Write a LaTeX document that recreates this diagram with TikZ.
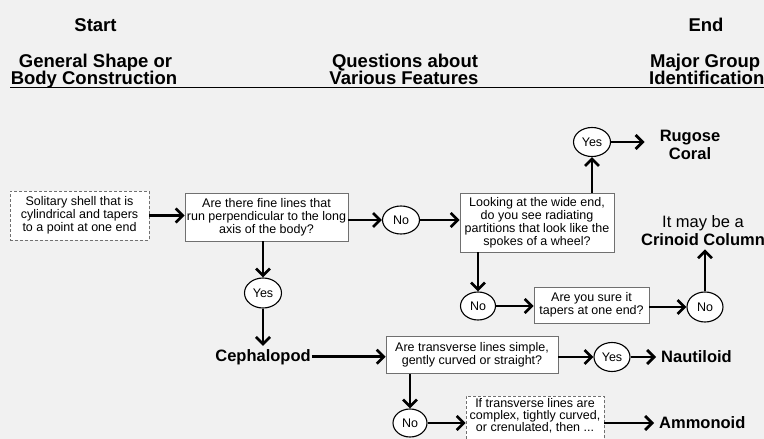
\documentclass[tikz,border=0pt]{standalone}
\usepackage{fontspec}
\setmainfont{Liberation Sans}
\usetikzlibrary{arrows.meta,shapes.geometric}
\definecolor{bg}{HTML}{F1F1F1}
\definecolor{boxline}{HTML}{707070}
\begin{document}
\begin{tikzpicture}[x=1pt,y=-1pt,
  qbox/.style={draw=boxline, line width=0.7pt, fill=white, align=center,
    font=\fontsize{12.5}{13}\selectfont, inner sep=0pt},
  dbox/.style={qbox, densely dashed},
  ans/.style={ellipse, draw=black, line width=1.1pt, fill=white,
    minimum width=37pt, minimum height=28pt, inner sep=0pt,
    font=\fontsize{12.5}{12.5}\selectfont},
  grp/.style={font=\bfseries\fontsize{16.5}{18}\selectfont, align=center,
    inner xsep=5pt, inner ysep=3pt},
  head/.style={font=\bfseries\fontsize{18.5}{17}\selectfont, inner sep=0pt},
  arr/.style={-{Straight Barb[length=7pt,width=14pt]}, line width=2.7pt}]
\clip (0,0) rectangle (764,439);
\fill[bg] (0,0) rectangle (764,439);

% headings
\node[head, anchor=base] (hstart) at (95.5,31) {Start};
\node[head, anchor=base] (hgen1) at (95.5,67) {General Shape or};
\node[head, anchor=base] (hgen2) at (94,84) {Body Construction};
\node[head, anchor=base] (hq1) at (405,67) {Questions about};
\node[head, anchor=base] (hq2) at (404,84) {Various Features};
\node[head, anchor=base] (hend) at (706,31) {End};
\node[head, anchor=base west] (hmaj1) at (650,67) {Major Group};
\node[head, anchor=base west] (hmaj2) at (649,84) {Identification};
\coordinate (ulA) at (10,87.5);
\coordinate (ulB) at (764,87.5);
\draw[line width=1.5pt] (ulA) -- (ulB);

% boxes
\node[dbox, minimum width=139pt, minimum height=49pt] (box1) at (79.5,215.5)
  {Solitary shell that is\\cylindrical and tapers\\to a point at one end};
\node[qbox, minimum width=163pt, minimum height=48pt] (box2) at (266.5,217)
  {Are there fine lines that\\run perpendicular to the long\\axis of the body?};
\node[qbox, minimum width=154pt, minimum height=59pt] (box3) at (537,222.5)
  {Looking at the wide end,\\do you see radiating\\partitions that look like the\\spokes of a wheel?};
\node[qbox, minimum width=115pt, minimum height=36pt] (box4) at (591.5,305)
  {Are you sure it\\tapers at one end?};
\node[qbox, minimum width=172pt, minimum height=37pt] (box5) at (472,355)
  {Are transverse lines simple,\\gently curved or straight?};
\node[dbox, minimum width=138pt, minimum height=54pt,
  font=\fontsize{12.5}{12.3}\selectfont] (box6) at (535,423)
  {If transverse lines are\\complex, tightly curved,\\or crenulated, then ...\\[4pt]};

% answers
\node[ans] (noA) at (401,220) {No};
\node[ans, minimum height=29pt] (yesA) at (592,142) {Yes};
\node[ans, minimum width=35pt] (noB) at (478,306) {No};
\node[ans, minimum width=36pt, minimum height=30pt] (noC) at (705,307) {No};
\node[ans, minimum height=30pt] (yesB) at (263,293) {Yes};
\node[ans, minimum width=36pt, minimum height=29pt] (yesC) at (612,357) {Yes};
\node[ans, minimum width=34pt] (noD) at (410,423) {No};

% groups
\node[grp] (rug) at (690,145) {Rugose\\Coral};
\node[grp, font=\fontsize{16.5}{18}\selectfont] (crin) at (703,231)
  {It may be a\\\textbf{Crinoid Column}};
\node[grp, anchor=base, inner xsep=1pt] (ceph) at (263,361) {Cephalopod};
\node[grp, anchor=west] (naut) at (656,357) {Nautiloid};
\node[grp, anchor=west] (ammo) at (654,423) {Ammonoid};

% connectors
\draw[arr] (box1.east) -- (box1.east -| box2.west);
\draw[arr] (box2.east |- noA) -- (noA.west);
\draw[arr] (noA.east) -- (noA.east -| box3.west);
\draw[arr] (box3.north -| yesA) -- (yesA.south);
\draw[arr, shorten >=10pt] (yesA.east) -- (yesA.east -| rug.west);
\draw[arr] (box3.south -| noB) -- (noB.north);
\draw[arr] (noB.east) -- (noB.east -| box4.west);
\draw[arr] (box4.east |- noC) -- (noC.west);
\draw[arr] (noC.north) -- (noC.north |- crin.south);
\draw[arr] (box2.south -| yesB) -- (yesB.north);
\draw[arr] (yesB.south) -- (yesB.south |- ceph.north);
\draw[arr] (ceph.east) -- (ceph.east -| box5.west);
\draw[arr] (box5.east |- yesC) -- (yesC.west);
\draw[arr] (yesC.east) -- (naut.west);
\draw[arr] (box5.south -| noD) -- (noD.north);
\draw[arr] (noD.east) -- (noD.east -| box6.west);
\draw[arr] (box6.east |- ammo) -- (ammo.west);
\end{tikzpicture}
\end{document}
